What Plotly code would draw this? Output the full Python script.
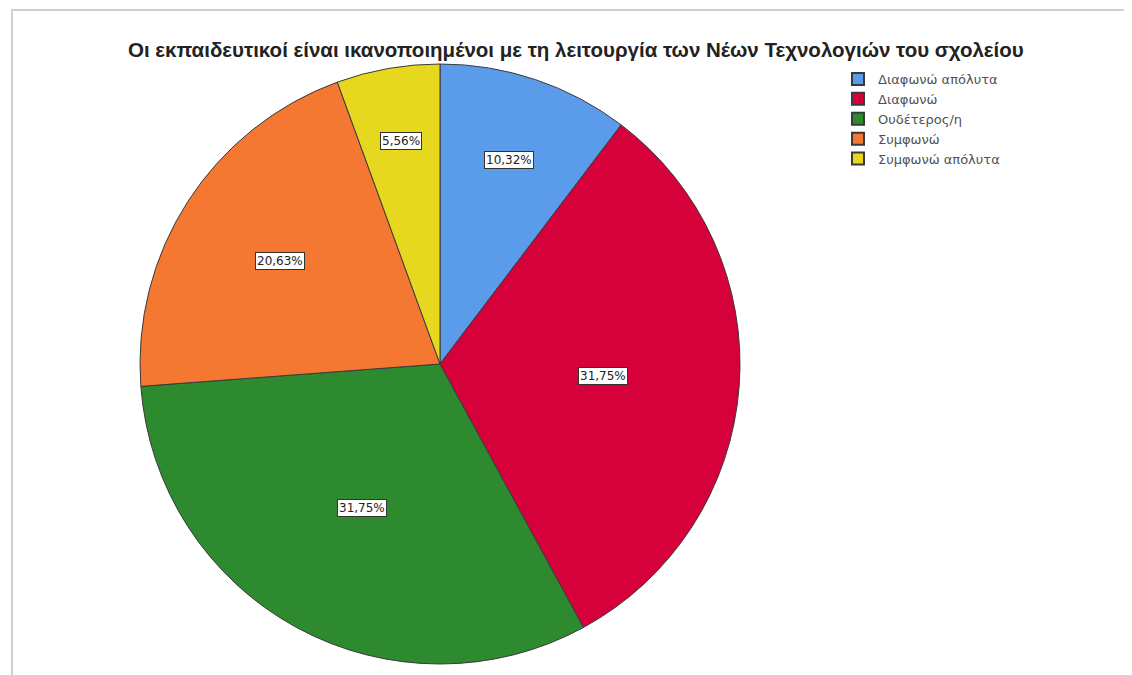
import math
import plotly.graph_objects as go

categories = ["Διαφωνώ απόλυτα", "Διαφωνώ", "Ουδέτερος/η", "Συμφωνώ", "Συμφωνώ απόλυτα"]
percentages = [10.32, 31.75, 31.75, 20.63, 5.56]
colors = ["#5b9cea", "#d6003a", "#2e8a2e", "#f47732", "#e5d81e"]
title_text = "Οι εκπαιδευτικοί είναι ικανοποιημένοι με τη λειτουργία των Νέων Τεχνολογιών του σχολείου"

W, H = 1132, 675
OFF = 8  # page body margin
cx_px, cy_px, r_px = 440 - OFF, 364 - OFF, 300

fig = go.Figure()
fig.add_trace(go.Pie(
    labels=categories,
    values=percentages,
    sort=False,
    direction="clockwise",
    rotation=0,
    marker=dict(colors=colors, line=dict(color="#3a3a3a", width=1)),
    textinfo="none",
    hoverinfo="label+percent",
    domain=dict(x=[(cx_px - r_px) / W, (cx_px + r_px) / W],
                y=[1 - (cy_px + r_px) / H, 1 - (cy_px - r_px) / H]),
))

# percentage labels with boxes, positioned at slice mid-angles
total = sum(percentages)
cum = 0.0
annotations = []
for v in percentages:
    share = v / total
    mid = (cum + v / 2) / total * 2 * math.pi
    cum += v
    f = 0.8 - 0.8 * share
    x_px = cx_px + f * r_px * math.sin(mid)
    y_px = cy_px - f * r_px * math.cos(mid)
    annotations.append(dict(
        x=x_px / W, y=1 - y_px / H, xref="paper", yref="paper",
        xanchor="center", yanchor="middle",
        text=f"{v:.2f}%".replace(".", ","), showarrow=False,
        font=dict(family="DejaVu Sans", size=12, color="#222"),
        bgcolor="white", bordercolor="#333", borderwidth=1, borderpad=1,
    ))

annotations.append(dict(
    x=(576 - OFF) / W, y=1 - (49 - OFF) / H, xref="paper", yref="paper",
    text="<b>" + title_text + "</b>", showarrow=False,
    font=dict(family="Liberation Sans, Arial", size=20.5, color="#222"),
    xanchor="center", yanchor="middle",
))

fig.update_layout(
    width=W, height=H,
    margin=dict(l=0, r=0, t=0, b=0),
    paper_bgcolor="white",
    plot_bgcolor="white",
    annotations=annotations,
    showlegend=True,
    legend=dict(x=(852 - OFF - 14) / W, y=1 - (64 - OFF) / H, xanchor="left", yanchor="top",
                font=dict(family="DejaVu Sans", size=13, color="#505050"),
                tracegroupgap=0, itemsizing="constant"),
    shapes=[dict(type="rect", xref="paper", yref="paper",
                 x0=(12 - OFF) / W, x1=1.02, y0=-0.02, y1=1 - (10 - OFF) / H,
                 line=dict(color="#cfcfcf", width=2), layer="below")],
)

fig.write_html("out.html")
